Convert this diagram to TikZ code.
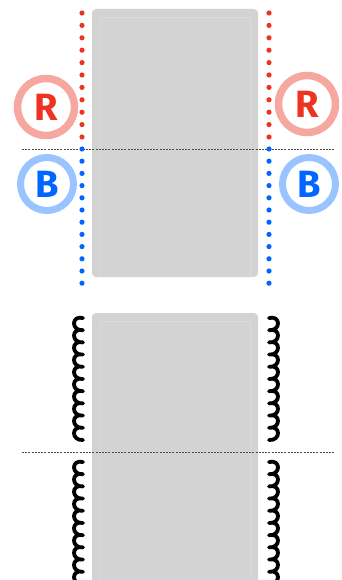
\documentclass[tikz,border=0pt]{standalone}
\usepackage{fontspec}
\setmainfont{Fira Sans}
\definecolor{rdot}{HTML}{EE3322}
\definecolor{bdot}{HTML}{0066FF}
\definecolor{rring}{HTML}{F6A8A0}
\definecolor{bring}{HTML}{99C4FF}
\definecolor{panel}{HTML}{D3D3D3}
\definecolor{panelin}{HTML}{DADADA}
\tikzset{
  panelbox/.style={fill=panel, rounded corners=4pt},
  panelinner/.style={draw=panelin, line width=0.8pt},
  sepline/.style={draw=black!70, line width=0.7pt, dash pattern=on 2pt off 1.2pt},
  ringR/.style={circle, draw=rring, line width=7.5pt, minimum size=57pt, inner sep=0pt, text=rdot, font=\fontsize{38}{38}\bfseries},
  ringB/.style={circle, draw=bring, line width=7pt, minimum size=53pt, inner sep=0pt, text=bdot, font=\fontsize{38}{38}\bfseries},
  springline/.style={line width=3.8pt, line cap=round, line join=round},
}
% left spring: x, ytop, count, step
\newcommand{\lspring}[4]{%
  \draw[springline] (#1+3,#2) \foreach \i in {1,...,#3} {
    .. controls (#1-9,#2+\i*#4-#4-3) and (#1-9,#2+\i*#4+1) .. (#1+3,#2+\i*#4)
  };}
\newcommand{\rspring}[4]{%
  \draw[springline] (#1-3,#2) \foreach \i in {1,...,#3} {
    .. controls (#1+9,#2+\i*#4-#4-3) and (#1+9,#2+\i*#4+1) .. (#1-3,#2+\i*#4)
  };}
\begin{document}
\begin{tikzpicture}[x=1pt, y=-1pt]
\useasboundingbox (0,0) rectangle (342,580);
% panels
\fill[panelbox] (92,9) rectangle (258,277);
\draw[panelinner] (100,17) -- (100,277);
\draw[panelinner] (100,17) -- (250,17) -- (250,277);
\fill[panelbox] (92,313) rectangle (258,590);
\draw[panelinner] (100,321) -- (100,580);
\draw[panelinner] (100,321) -- (250,321) -- (250,580);
% separators
\draw[sepline] (22,149) coordinate (s1a) -- (335,149) coordinate (s1b);
\draw[sepline] (22,452) coordinate (s2a) -- (335,452) coordinate (s2b);
% dots
\foreach \i in {0,...,10} {
  \fill[rdot] (82,13+\i*12.4) circle (2.6);
  \fill[rdot] (269,13+\i*12.4) circle (2.6);
}
\foreach \i in {0,...,11} {
  \fill[bdot] (82,149+\i*12.2) circle (2.6);
  \fill[bdot] (269,149+\i*12.2) circle (2.6);
}
% rings
\node[ringR] (rl) at (46,107) {R};
\node[ringB] (bl) at (47,184) {B};
\node[ringR] (rr) at (307,104) {R};
\node[ringB] (br) at (309,184) {B};
% springs
\lspring{80}{318}{10}{12.2}
\lspring{80}{462}{10}{12.2}
\rspring{272}{318}{10}{12.2}
\rspring{272}{462}{10}{12.2}
\end{tikzpicture}
\end{document}
